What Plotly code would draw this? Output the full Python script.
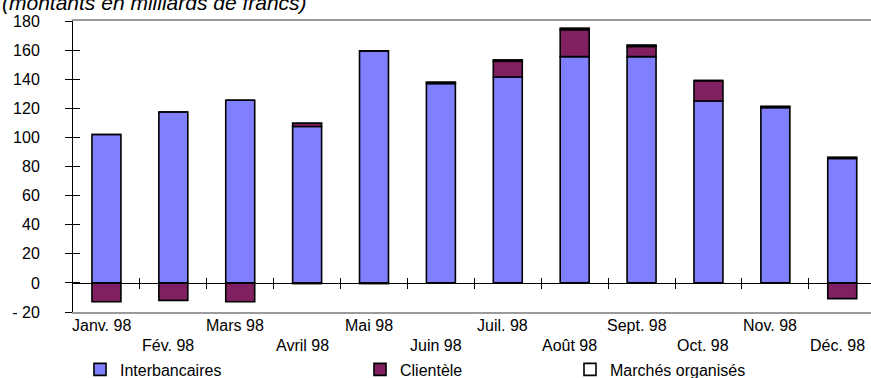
import plotly.graph_objects as go

months = ["Janv. 98", "Fév. 98", "Mars 98", "Avril 98", "Mai 98", "Juin 98",
          "Juil. 98", "Août 98", "Sept. 98", "Oct. 98", "Nov. 98", "Déc. 98"]
interbancaires = [102, 117.5, 125.5, 107.5, 159.5, 137, 141.5, 155.5, 155.5, 125, 120.5, 85.5]
clientele = [-13, -12, -13, 2.3, 0, 0, 10.8, 18.5, 7, 14, 0, -10.8]
marches = [0, 0, 0, -0.5, -0.5, 1.1, 1.0, 1.1, 1.0, 0, 0.9, 0.9]
y_ticks = [-20, 0, 20, 40, 60, 80, 100, 120, 140, 160, 180]
y_ticktext = ["- 20", "0", "20", "40", "60", "80", "100", "120", "140", "160", "180"]
title_text = "(montants en milliards de francs)"

FONT = "Liberation Sans, Arial, sans-serif"
W, H = 871, 378
ML, MT, MB = 73, 21, 66
YMIN, YMAX = -20, 180
x_range = [-0.5, 11.43]

fig = go.Figure()
series = [
    ("Interbancaires", interbancaires, "#8080FF", "legend"),
    ("Clientèle", clientele, "#802060", "legend2"),
    ("Marchés organisés", marches, "#FFFFFF", "legend3"),
]
for name, vals, col, lg in series:
    fig.add_trace(go.Bar(
        x=list(range(len(months))), y=vals, name=name,
        marker=dict(color=col, line=dict(color="black", width=1.6)),
        legend=lg, showlegend=True,
    ))

zero_pos = (0 - YMIN) / (YMAX - YMIN)
boundaries = [i + 0.5 for i in range(len(months) - 1)]

# category labels, staggered on two rows
for i, m in enumerate(months):
    fig.add_annotation(
        x=i, y=0, xref="x", yref="paper", text=m, showarrow=False,
        xanchor="center", yanchor="middle", xshift=-5,
        yshift=-13 if i % 2 == 0 else -33,
        font=dict(family=FONT, size=16, color="black"),
    )

fig.add_annotation(
    x=-ML / (W - ML), y=1, xref="paper", yref="paper", text=title_text,
    showarrow=False, xanchor="left", yanchor="bottom", yshift=5,
    font=dict(family=FONT, size=21, color="black", style="italic", weight="normal"),
)

leg_common = dict(orientation="h", xref="container", yref="container",
                  yanchor="middle", font=dict(family=FONT, size=16, color="black"),
                  bgcolor="rgba(0,0,0,0)", itemwidth=30)

fig.update_layout(
    width=W, height=H,
    margin=dict(l=ML, r=0, t=MT, b=MB),
    paper_bgcolor="white", plot_bgcolor="white",
    barmode="relative", bargap=0.567,
    showlegend=True,
    font=dict(family=FONT, size=16, color="black"),
    xaxis=dict(range=x_range, showticklabels=False, ticks="", showgrid=False,
               zeroline=False, showline=True, linecolor="#9a9a9a", linewidth=2,
               mirror=True),
    xaxis2=dict(overlaying="x", anchor="free", position=zero_pos, range=x_range,
                type="linear", tickvals=boundaries, ticks="outside", ticklen=5,
                tickcolor="black", tickwidth=1, showticklabels=False, showgrid=False,
                zeroline=False, showline=True, linecolor="black", linewidth=1),
    xaxis3=dict(overlaying="x", anchor="free", position=zero_pos, range=x_range,
                type="linear", tickvals=boundaries, ticks="inside", ticklen=5,
                tickcolor="black", tickwidth=1, showticklabels=False, showgrid=False,
                zeroline=False, showline=False),
    yaxis=dict(range=[YMIN, YMAX], tickvals=y_ticks, ticktext=y_ticktext,
               ticks="outside", ticklen=7, tickcolor="black", showgrid=False,
               zeroline=False, showline=True, linecolor="black", linewidth=1,
               ticklabelstandoff=22, tickfont=dict(family=FONT, size=16, color="black")),
    yaxis2=dict(overlaying="y", anchor="x", range=[YMIN, YMAX], tickvals=y_ticks,
                ticks="inside", ticklen=7, tickcolor="black", showticklabels=False,
                showgrid=False, zeroline=False, showline=False),
    legend=dict(x=80 / W, y=8.5 / H, **leg_common),
    legend2=dict(x=360 / W, y=8.5 / H, **leg_common),
    legend3=dict(x=570 / W, y=8.5 / H, **leg_common),
)
# invisible traces to activate the extra axes
fig.add_trace(go.Scatter(x=[], y=[], xaxis="x2", showlegend=False))
fig.add_trace(go.Scatter(x=[], y=[], xaxis="x3", yaxis="y2", showlegend=False))

fig.write_html("out.html", config={"displayModeBar": False},
               post_script="document.body.style.margin='0';")
